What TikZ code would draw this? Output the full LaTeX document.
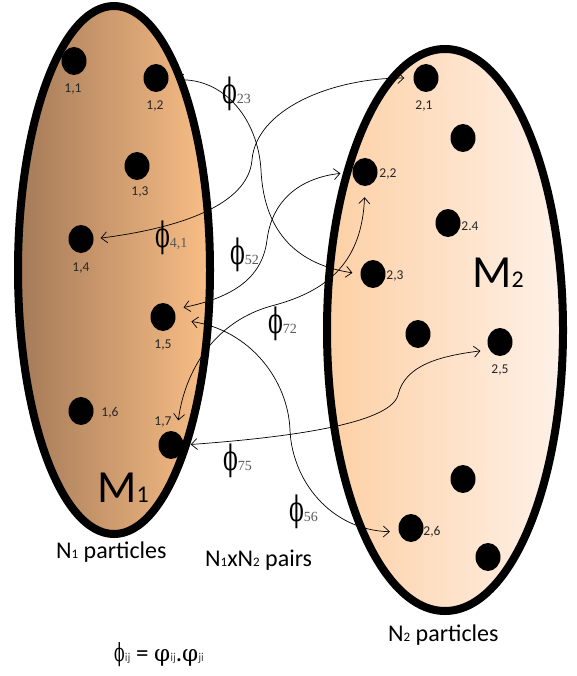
\RequirePackage{fix-cm}
\documentclass[tikz,border=0pt]{standalone}
\usepackage{fontspec}
\setmainfont{Carlito}
\newfontfamily\subserif{Liberation Serif}
\newfontfamily\greekserif{DejaVu Serif}
\usepackage{graphicx}
\usepackage{xcolor}
\usetikzlibrary{shapes.geometric,arrows.meta,positioning}

\definecolor{brownL}{RGB}{164,122,88}
\definecolor{brownR}{RGB}{249,190,134}
\definecolor{peachL}{RGB}{253,208,165}
\definecolor{peachR}{RGB}{254,241,232}

\newcommand{\pairphi}[1]{\scalebox{0.62}[1]{\greekserif ϕ}{\subserif\fontsize{14}{14}\selectfont\color{black!65}#1}}
\newcommand{\smallsub}[1]{{\fontsize{12}{12}\selectfont\color{black!70}#1}}

\begin{document}
\begin{tikzpicture}[x=1pt,y=-1pt,
  blob/.style={line width=8pt},
  particle/.style={ellipse, fill=black, minimum width=25pt, minimum height=28pt, inner sep=0pt},
  idx/.style={font=\fontsize{13.5}{13.5}\selectfont, text=black!85, inner sep=0pt},
  pairlbl/.style={font=\fontsize{35}{35}\selectfont, inner sep=0pt, anchor=west},
  bond/.style={{Straight Barb[length=6pt,width=11pt]}-{Straight Barb[length=6pt,width=11pt]}, line width=0.7pt},
  caption/.style={font=\fontsize{24}{24}\selectfont, inner sep=0pt, anchor=base west},
  bigM/.style={font=\fontsize{46}{46}\selectfont, inner sep=0pt, anchor=base west},
]

\useasboundingbox (0,0) rectangle (577,676);

% --- Ensembles ---
\draw[blob, left color=brownL, right color=brownR] (114,270) ellipse [x radius=96, y radius=264];
\draw[blob, left color=peachL, right color=peachR] (445,330) ellipse [x radius=118, y radius=281];

% --- Particles of M1 ---
\node[particle] (p11) at (74,61) {};
\node[particle] (p12) at (156,78) {};
\node[particle] (p13) at (137,166) {};
\node[particle] (p14) at (81,239) {};
\node[particle] (p15) at (163,317) {};
\node[particle] (p16) at (81,411) {};
\node[particle] (p17) at (171,445) {};

\node[idx] (l11) at (73,89) {1,1};
\node[idx] (l12) at (155,106) {1,2};
\node[idx] (l13) at (140,192) {1,3};
\node[idx] (l14) at (81,268) {1,4};
\node[idx] (l15) at (163,345) {1,5};
\node[idx] (l16) at (110,413) {1,6};
\node[idx] (l17) at (163,422) {1,7};

% --- Particles of M2 ---
\node[particle] (p21) at (426,78) {};
\node[particle] (qa) at (463,138) {};
\node[particle] (p22) at (365,172) {};
\node[particle] (p24) at (448,223) {};
\node[particle] (p23) at (373,274) {};
\node[particle] (qb) at (418,334) {};
\node[particle] (p25) at (500,342) {};
\node[particle] (qc) at (463,479) {};
\node[particle] (p26) at (411,528) {};
\node[particle] (qd) at (488,557) {};

\node[idx] (l21) at (424,106) {2,1};
\node[idx] (l22) at (388,174) {2,2};
\node[idx] (l24) at (470,226) {2.4};
\node[idx] (l23) at (395,276) {2,3};
\node[idx] (l25) at (500,370) {2,5};
\node[idx] (l26) at (432,532) {2,6};

% --- Pair interactions ---
\draw[bond, shorten <=9pt, shorten >=8pt] (p12.-10) .. controls (225,78) and (258,120) .. (261,170)
  .. controls (264,235) and (300,265) .. (p23.west);
\draw[bond, shorten <=7pt, shorten >=9pt] (p14.east) .. controls (180,228) and (248,205) .. (252,160)
  .. controls (256,110) and (330,78) .. (p21.west);
\draw[bond, shorten <=10pt, shorten >=12pt] (p15.35) .. controls (230,298) and (262,280) .. (267,240)
  .. controls (272,200) and (300,178) .. (p22.west);
\draw[bond, shorten <=11pt, shorten >=12pt] (p22.south) .. controls (362,260) and (330,290) .. (275,305)
  .. controls (215,320) and (185,370) .. (p17.66);
\draw[bond, shorten <=7pt, shorten >=9pt] (p17.east) .. controls (280,438) and (390,425) .. (398,395)
  .. controls (405,365) and (440,356) .. (p25.216);
\draw[bond, shorten <=16pt, shorten >=9pt] (p15.-10) .. controls (250,330) and (288,380) .. (290,430)
  .. controls (292,480) and (330,530) .. (p26.198);

\node[pairlbl] (f23) at (222,94) {\pairphi{23}};
\node[pairlbl] (f41) at (155,238) {\pairphi{4,1}};
\node[pairlbl] (f52) at (230,255) {\pairphi{52}};
\node[pairlbl] (f72) at (268,324) {\pairphi{72}};
\node[pairlbl] (f75) at (223,461) {\pairphi{75}};
\node[pairlbl] (f56) at (289,512) {\pairphi{56}};

% --- Captions ---
\node[bigM] (m1) at (97,502) {M{\fontsize{24}{24}\selectfont 1}};
\node[bigM] (m2) at (472,287) {M{\fontsize{24}{24}\selectfont 2}};
\node[caption] (n1) at (56,558) {N{\fontsize{13}{13}\selectfont 1} particles};
\node[caption] (n12) at (205,566) {N{\fontsize{13}{13}\selectfont 1}xN{\fontsize{13}{13}\selectfont 2} pairs};
\node[caption] (n2) at (388,641) {N{\fontsize{13}{13}\selectfont 2} particles};
\node[font=\fontsize{25}{25}\selectfont, inner sep=0pt, anchor=west] (rule) at (114,655)
  {\scalebox{0.62}[1]{\greekserif\fontsize{25}{25}\selectfont ϕ}\smallsub{ij} = {\greekserif\fontsize{23}{23}\selectfont φ}\smallsub{ij}.{\greekserif\fontsize{23}{23}\selectfont φ}\smallsub{ji}};

\end{tikzpicture}
\end{document}
